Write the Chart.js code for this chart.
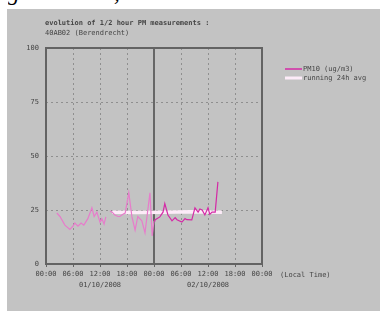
<!DOCTYPE html>
<html>
<head>
<meta charset="utf-8">
<script src="https://cdn.jsdelivr.net/npm/chart.js@4/dist/chart.umd.min.js"></script>
<style>
    body { margin: 0; background: #fff; width: 380px; height: 311px; overflow: hidden; position: relative; }
    #top { position: absolute; left: 8px; top: 0; width: 372px; height: 9px; overflow: hidden; }
    #top span { position: absolute; top: -20px; left: 0; font: italic 23px "Liberation Serif", serif; color: #000; white-space: nowrap; }
    #box { position: absolute; left: 7px; top: 9px; width: 373px; height: 302px; background: #c3c3c3; }
    #chart { position: absolute; left: 0; top: 0; }
</style>
</head>
<body>
<div id="top"><span>gemiddelde, maar vooral door de</span></div>
<div id="box"></div>
<canvas id="chart" width="380" height="311"></canvas>
<script>
// hours since 01/10/2008 00:00, null = missing half hour
const pmHours = [2.4, 3.1, 4.2, 5.3, 6, 6.4, 7.1, 7.8, 8.4, 9.3, 10.2, 10.7, 11.3, 12, 12.4, 12.9, 13.3, 13.7,
    14.2, 14.7, 15.3, 16, 16.4, 17.1, 17.6, 18.4, 19.1, 19.8, 20.4, 21.3, 22, 23.1, 23.6, 24,
    24.2, 25.3, 26, 26.4, 27.1, 28, 28.7, 29.1, 30.2, 30.9, 31.3, 32.4, 33.1, 33.8, 34.2, 34.7, 35.3, 36, 36.4, 36.9, 37.6, 38.2];
const pmValues = [23.6, 22, 18, 16, 17.5, 19, 17.5, 19, 18, 21, 26, 22, 24, 19.4, 21, 18.5, 21.8, null,
    24.5, 24, 22.7, 22, 22, 23, 23.6, 33, 21.8, 15.7, 22, 20, 14.4, 33, 13, 20,
    20.4, 21.8, 24, 28, 22.7, 20, 21.5, 20.5, 19.4, 21, 20.5, 20.4, 26, 24, 25.5, 25, 22.7, 26, 23, 24, 24, 38];

const avgHours = [14.7, 20, 26, 32, 36, 39.1];
const avgValues = [24, 23.8, 24, 24.2, 24.1, 24];

const hourTicks = [0, 6, 12, 18, 24, 30, 36, 42, 48];
const hourLabels = ['00:00', '06:00', '12:00', '18:00', '00:00', '06:00', '12:00', '18:00', '00:00'];
const dayLabels = ['01/10/2008', '02/10/2008'];
const dayCenters = [12, 36];
const midnight = 24;

const FONT = '"DejaVu Sans Mono", monospace';
const TEXT = '#454545';
const LINE_DAY1 = '#e77ccb';
const LINE_DAY2 = '#d42aa6';
const AVG = '#fdebf8';

const toPoints = (xs, ys) => xs.map((x, i) => ({ x: x, y: ys[i] }));

const extras = {
    id: 'extras',
    beforeDatasetsDraw(chart) {
        const ctx = chart.ctx;
        const area = chart.chartArea;
        const mx = Math.round(chart.scales.x.getPixelForValue(midnight));
        ctx.save();
        ctx.strokeStyle = '#666';
        ctx.lineWidth = 2;
        ctx.beginPath();
        ctx.moveTo(mx, area.top);
        ctx.lineTo(mx, area.bottom);
        ctx.stroke();
        ctx.restore();
    },
    afterDraw(chart) {
        const ctx = chart.ctx;
        const area = chart.chartArea;
        const xs = chart.scales.x;
        ctx.save();
        // frame
        ctx.strokeStyle = '#636363';
        ctx.lineWidth = 2;
        ctx.strokeRect(area.left, area.top, area.right - area.left, area.bottom - area.top);

        ctx.fillStyle = TEXT;
        ctx.textBaseline = 'middle';
        ctx.font = 'bold 7px ' + FONT;
        ctx.fillText('evolution of 1/2 hour PM measurements :', 45, 23);
        ctx.font = '7px ' + FONT;
        ctx.fillText('40AB02 (Berendrecht)', 45, 33);

        ctx.textAlign = 'center';
        dayLabels.forEach((d, i) => ctx.fillText(d, xs.getPixelForValue(dayCenters[i]), 285));
        ctx.textAlign = 'left';
        ctx.fillText('(Local Time)', 280, 275);

        // legend
        const items = [['PM10 (ug/m3)', LINE_DAY2, 1.5], ['running 24h avg', AVG, 3]];
        items.forEach((it, i) => {
            const y = 69 + i * 9;
            ctx.strokeStyle = it[1];
            ctx.lineWidth = it[2];
            ctx.beginPath();
            ctx.moveTo(285, y);
            ctx.lineTo(302, y);
            ctx.stroke();
            ctx.fillStyle = TEXT;
            ctx.fillText(it[0], 303, y);
        });
        ctx.restore();
    }
};

new Chart(document.getElementById('chart').getContext('2d'), {
    type: 'line',
    data: {
        datasets: [{
            label: 'PM10 (ug/m3)',
            data: toPoints(pmHours, pmValues),
            borderColor: LINE_DAY2,
            borderWidth: 1.2,
            pointRadius: 0,
            spanGaps: false,
            segment: {
                borderColor: c => c.p0.parsed.x < midnight ? LINE_DAY1 : LINE_DAY2
            },
            order: 0
        }, {
            label: 'running 24h avg',
            data: toPoints(avgHours, avgValues),
            borderColor: AVG,
            borderWidth: 3.5,
            pointRadius: 0,
            order: 1
        }]
    },
    options: {
        responsive: false,
        animation: false,
        layout: { padding: { left: 0, top: 48, right: 118, bottom: 0 } },
        plugins: { legend: { display: false }, tooltip: { enabled: false } },
        scales: {
            x: {
                type: 'linear',
                min: 0,
                max: 48,
                afterBuildTicks: s => { s.ticks = hourTicks.map(v => ({ value: v })); },
                afterFit: s => { s.height = 47; },
                ticks: {
                    color: TEXT,
                    font: { family: FONT, size: 7 },
                    padding: 3,
                    maxRotation: 0,
                    autoSkip: false,
                    callback: (v, i) => hourLabels[i]
                },
                grid: {
                    color: c => c.tick && c.tick.value === midnight ? 'rgba(0,0,0,0)' : '#8f8f8f',
                    tickColor: '#636363',
                    tickBorderDash: [],
                    tickLength: 3
                },
                border: { display: false, dash: [2, 3] }
            },
            y: {
                min: 0,
                max: 100,
                afterFit: s => { s.width = 46; },
                ticks: {
                    stepSize: 25,
                    color: TEXT,
                    font: { family: FONT, size: 7 },
                    padding: 7
                },
                grid: {
                    color: '#8f8f8f',
                    drawTicks: false
                },
                border: { display: false, dash: [2, 3] }
            }
        }
    },
    plugins: [extras]
});
</script>
</body>
</html>
